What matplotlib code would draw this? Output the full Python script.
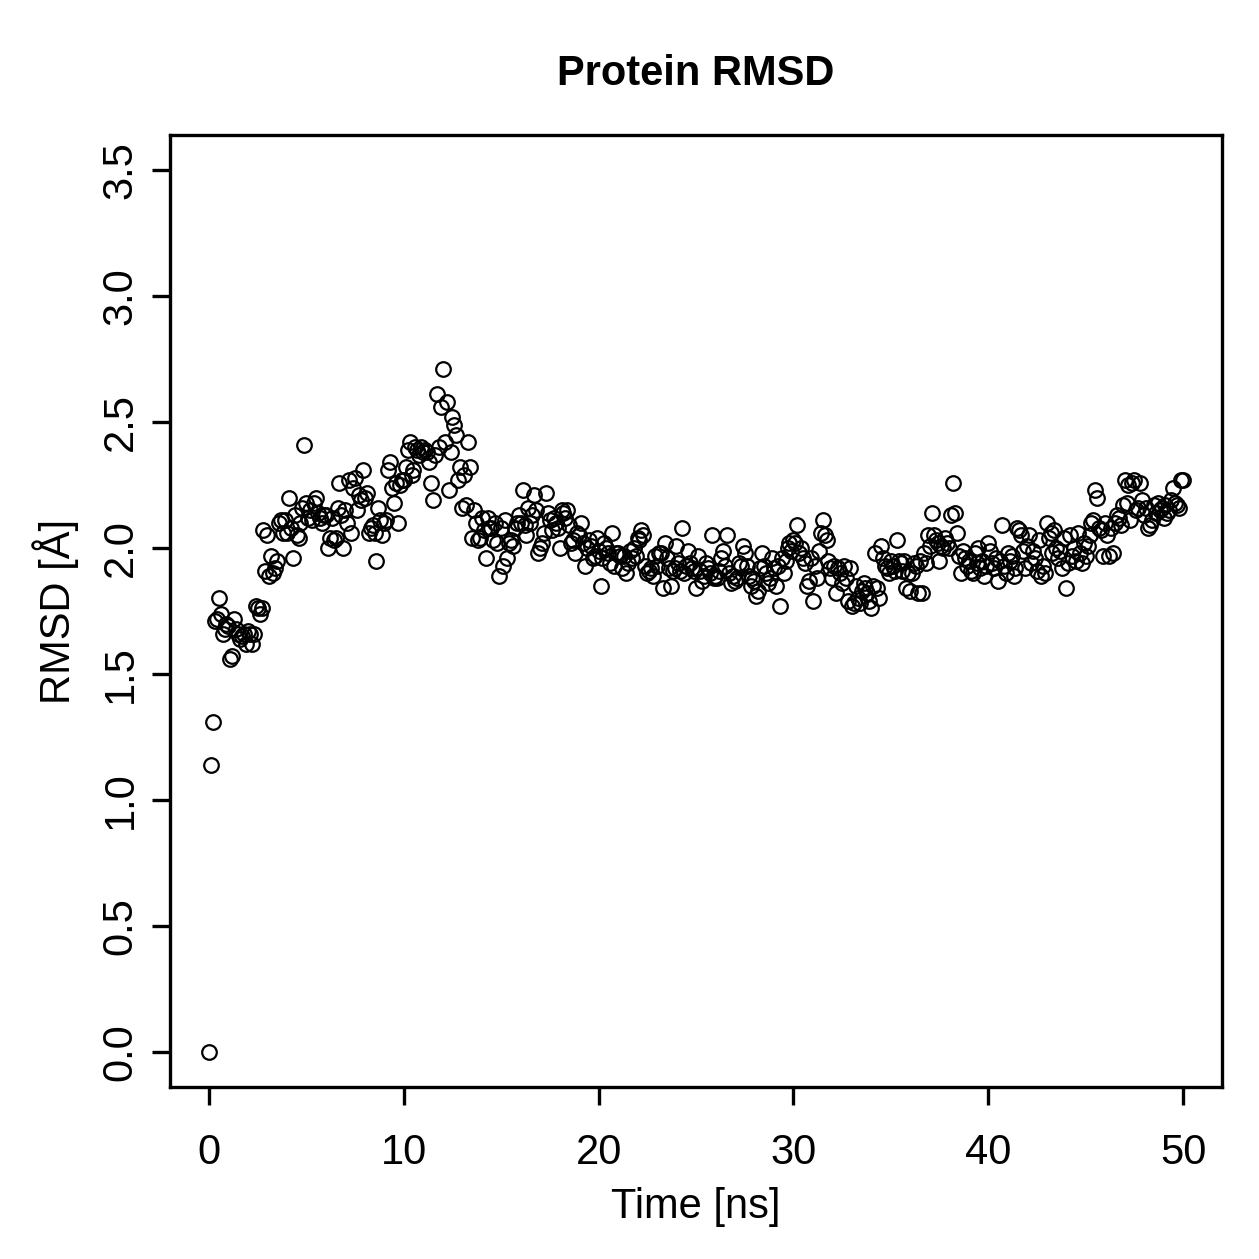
import numpy as np
import matplotlib
matplotlib.use("Agg")
import matplotlib.pyplot as plt

plt.rcParams['font.family'] = ['Liberation Sans', 'DejaVu Sans']

# RMSD, one row per ns (0.1 ns steps)
rmsd_rows = [
    [0.00, 1.14, 1.31, 1.71, 1.72, 1.80, 1.74, 1.66, 1.68, 1.70],
    [1.69, 1.56, 1.57, 1.72, 1.68, 1.66, 1.64, 1.65, 1.66, 1.62],
    [1.67, 1.66, 1.62, 1.66, 1.77, 1.76, 1.74, 1.76, 2.07, 1.91],
    [2.05, 1.89, 1.97, 1.90, 1.92, 1.95, 2.10, 2.11, 2.06, 2.11],
    [2.06, 2.20, 2.08, 1.96, 2.13, 2.05, 2.04, 2.10, 2.16, 2.41],
    [2.18, 2.12, 2.15, 2.11, 2.18, 2.20, 2.14, 2.12, 2.10, 2.13],
    [2.13, 2.00, 2.04, 2.12, 2.03, 2.04, 2.16, 2.26, 2.13, 2.00],
    [2.15, 2.10, 2.27, 2.06, 2.24, 2.28, 2.15, 2.21, 2.19, 2.31],
    [2.20, 2.22, 2.06, 2.08, 2.09, 2.06, 1.95, 2.16, 2.11, 2.05],
    [2.10, 2.11, 2.31, 2.34, 2.24, 2.18, 2.26, 2.10, 2.25, 2.27],
    [2.27, 2.32, 2.39, 2.42, 2.29, 2.31, 2.40, 2.39, 2.37, 2.40],
    [2.38, 2.39, 2.38, 2.34, 2.26, 2.19, 2.37, 2.61, 2.40, 2.56],
    [2.71, 2.42, 2.58, 2.23, 2.38, 2.52, 2.49, 2.45, 2.27, 2.32],
    [2.16, 2.29, 2.17, 2.42, 2.32, 2.04, 2.15, 2.10, 2.03, 2.04],
    [2.12, 2.07, 1.96, 2.12, 2.08, 2.08, 2.03, 2.10, 2.02, 1.89],
    [2.08, 1.93, 2.11, 1.96, 2.02, 2.03, 2.01, 2.08, 2.10, 2.13],
    [2.10, 2.23, 2.09, 2.05, 2.16, 2.10, 2.13, 2.21, 2.15, 1.98],
    [2.00, 2.02, 2.06, 2.22, 2.14, 2.11, 2.07, 2.12, 2.10, 2.08],
    [2.00, 2.15, 2.14, 2.12, 2.15, 2.09, 2.02, 2.03, 1.98, 2.06],
    [2.05, 2.10, 2.02, 1.93, 2.00, 2.03, 2.01, 1.96, 1.97, 2.04],
    [1.99, 1.85, 1.96, 2.02, 2.00, 1.98, 1.94, 2.06, 1.93, 1.98],
    [1.98, 1.97, 1.92, 1.97, 1.90, 1.94, 1.99, 1.96, 2.00, 1.97],
    [2.04, 2.03, 2.07, 2.05, 1.93, 1.90, 1.91, 1.92, 1.89, 1.97],
    [1.93, 1.98, 1.98, 1.84, 2.02, 1.96, 1.92, 1.85, 1.91, 1.92],
    [2.01, 1.94, 1.91, 2.08, 1.90, 1.93, 1.99, 1.94, 1.92, 1.91],
    [1.84, 1.97, 1.91, 1.87, 1.89, 1.94, 1.92, 1.90, 2.05, 1.88],
    [1.89, 1.88, 1.91, 1.96, 1.99, 1.93, 2.05, 1.90, 1.86, 1.89],
    [1.87, 1.88, 1.94, 1.93, 2.01, 1.98, 1.93, 1.89, 1.85, 1.88],
    [1.87, 1.81, 1.83, 1.92, 1.98, 1.93, 1.90, 1.86, 1.88, 1.96],
    [1.92, 1.85, 1.93, 1.77, 1.96, 1.90, 1.95, 2.00, 2.02, 1.99],
    [2.03, 2.02, 2.09, 1.98, 2.00, 1.96, 1.94, 1.85, 1.87, 1.96],
    [1.79, 1.93, 1.88, 1.99, 2.06, 2.11, 2.05, 2.03, 1.95, 1.92],
    [1.88, 1.93, 1.82, 1.92, 1.90, 1.86, 1.93, 1.88, 1.79, 1.92],
    [1.77, 1.78, 1.85, 1.80, 1.78, 1.83, 1.86, 1.84, 1.82, 1.79],
    [1.76, 1.85, 1.98, 1.84, 1.80, 2.01, 1.96, 1.93, 1.92, 1.90],
    [1.95, 1.93, 1.91, 2.03, 1.95, 1.94, 1.91, 1.95, 1.84, 1.90],
    [1.83, 1.90, 1.94, 1.93, 1.82, 1.95, 1.82, 1.98, 1.94, 2.05],
    [2.01, 2.14, 2.05, 2.03, 2.02, 1.95, 2.01, 2.00, 2.04, 2.02],
    [2.00, 2.13, 2.26, 2.14, 2.06, 1.97, 1.90, 1.99, 1.96, 1.93],
    [1.95, 1.91, 1.90, 1.98, 1.94, 2.00, 1.92, 1.95, 1.89, 1.93],
    [2.02, 1.99, 1.94, 1.92, 1.96, 1.87, 1.95, 2.09, 1.93, 1.90],
    [1.98, 1.95, 1.97, 1.89, 1.92, 2.08, 2.07, 2.05, 1.99, 1.92],
    [2.01, 2.05, 1.94, 1.99, 1.96, 1.91, 2.03, 1.89, 1.93, 1.90],
    [2.10, 2.04, 2.06, 1.98, 2.07, 2.00, 1.96, 1.99, 1.92, 2.04],
    [1.84, 1.94, 2.05, 1.97, 2.00, 1.95, 2.06, 1.98, 1.94, 2.02],
    [1.97, 2.01, 2.05, 2.10, 2.11, 2.23, 2.20, 2.08, 2.07, 1.97],
    [2.10, 2.05, 1.97, 2.08, 1.98, 2.10, 2.13, 2.12, 2.09, 2.17],
    [2.27, 2.18, 2.25, 2.11, 2.26, 2.27, 2.15, 2.16, 2.26, 2.19],
    [2.13, 2.16, 2.08, 2.09, 2.11, 2.17, 2.14, 2.18, 2.15, 2.16],
    [2.12, 2.17, 2.14, 2.15, 2.19, 2.24, 2.18, 2.17, 2.16, 2.27],
    [2.27],
]
rmsd = np.concatenate([np.array(r) for r in rmsd_rows])
time_ns = np.arange(len(rmsd)) * 0.1

x_ticks = [0, 10, 20, 30, 40, 50]
y_ticks = [0.0, 0.5, 1.0, 1.5, 2.0, 2.5, 3.0, 3.5]
y_labels = ['0.0', '0.5', '1.0', '1.5', '2.0', '2.5', '3.0', '3.5']

fig = plt.figure(figsize=(12.59, 12.59), dpi=100)
ax = fig.add_axes([0.135, 0.1366, 0.8356, 0.7562])

ax.plot(time_ns, rmsd, 'o', mfc='none', mec='black', ms=10.5, mew=1.6)

ax.set_xlim(-2, 52)
ax.set_ylim(-0.14, 3.64)
ax.set_xticks(x_ticks)
ax.set_xticklabels([str(t) for t in x_ticks])
ax.set_yticks(y_ticks)
ax.set_yticklabels(y_labels, rotation=90, va='center')

for s in ax.spines.values():
    s.set_linewidth(2.4)
ax.tick_params(direction='out', length=13, width=2.4, labelsize=30)
ax.tick_params(axis='x', pad=20)
ax.tick_params(axis='y', pad=8)

ax.set_xlabel('Time [ns]', fontsize=30, labelpad=10)
ax.set_ylabel('RMSD [Å]', fontsize=30, labelpad=16)
ax.set_title('Protein RMSD', fontsize=30, fontweight='bold', pad=36)

fig.savefig('out.png', dpi=100)
